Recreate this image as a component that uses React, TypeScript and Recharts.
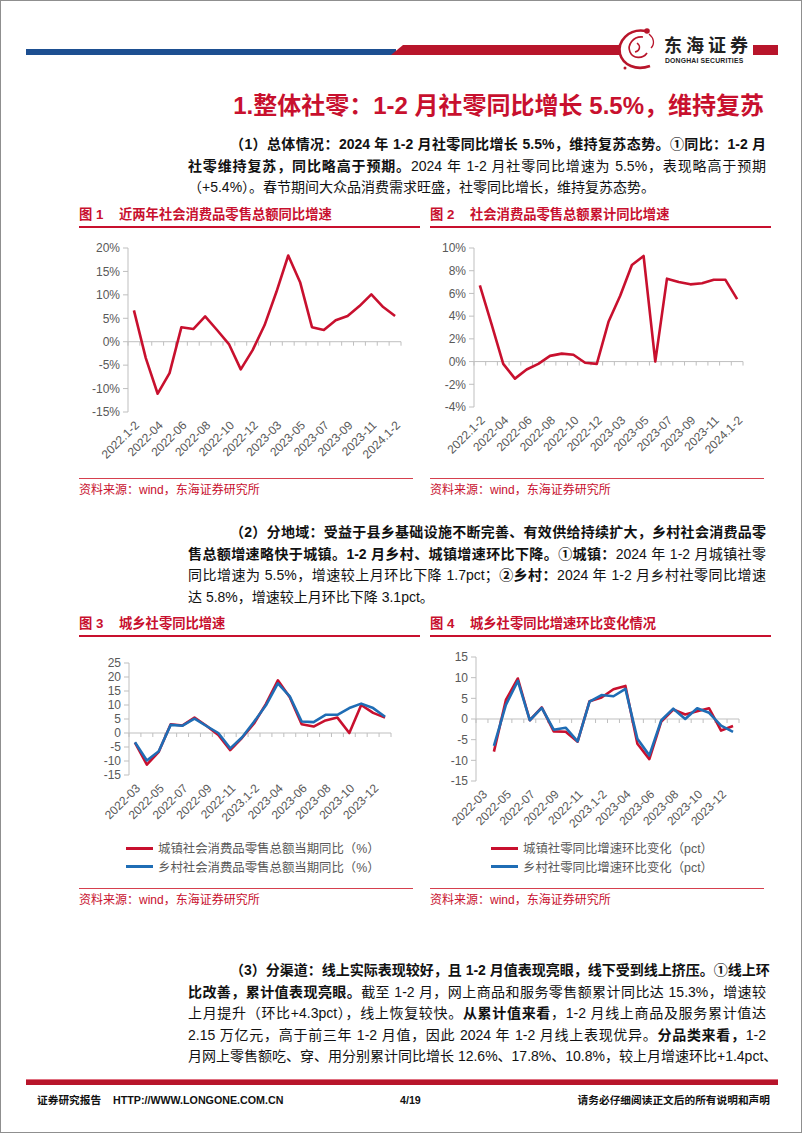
import React from "react";
import { LineChart, Line, XAxis, YAxis, ReferenceLine } from "recharts";

const RED = "#C8102E";
const BLUE = "#1F6DB5";
const AXIS = "#BFBFBF";
const TICK = "#595959";
const LATIN = '"Liberation Sans", Arial, sans-serif';
const BODY = '"Liberation Sans Narrow", "Liberation Sans", "Noto Sans CJK SC", sans-serif';
const CJK = '"Liberation Sans", "Noto Sans CJK SC", sans-serif';

// 图1 / 图2 categories
const months1 = [
  "2022.1-2", "2022-03", "2022-04", "2022-05", "2022-06", "2022-07", "2022-08", "2022-09",
  "2022-10", "2022-11", "2022-12", "2023.1-2", "2023-03", "2023-04", "2023-05", "2023-06",
  "2023-07", "2023-08", "2023-09", "2023-10", "2023-11", "2023-12", "2024.1-2",
];
// 社会消费品零售总额当月同比 (%)
const retailYoy = [6.7, -3.5, -11.1, -6.7, 3.1, 2.7, 5.4, 2.5, -0.5, -5.9, -1.8, 3.5, 10.6, 18.4, 12.7, 3.1, 2.5, 4.6, 5.5, 7.6, 10.1, 7.4, 5.5];
// 社会消费品零售总额累计同比 (%)
const retailCumYoy = [6.7, 3.3, -0.2, -1.5, -0.7, -0.2, 0.5, 0.7, 0.6, -0.1, -0.2, 3.5, 5.8, 8.5, 9.3, 0, 7.3, 7.0, 6.8, 6.9, 7.2, 7.2, 5.5];

// 图3 / 图4 categories
const months3 = [
  "2022-03", "2022-04", "2022-05", "2022-06", "2022-07", "2022-08", "2022-09", "2022-10",
  "2022-11", "2022-12", "2023.1-2", "2023-03", "2023-04", "2023-05", "2023-06", "2023-07",
  "2023-08", "2023-09", "2023-10", "2023-11", "2023-12", "2024.1-2",
];
const urbanYoy = [-3.4, -11.3, -6.7, 3.1, 2.7, 5.5, 2.6, -0.7, -6.1, -1.7, 3.4, 10.4, 18.8, 12.8, 3.1, 2.3, 4.5, 5.5, 0, 10.0, 7.2, 5.5];
const ruralYoy = [-3.3, -9.8, -6.5, 2.9, 2.6, 5.1, 2.5, 0.0, -5.5, -1.5, 4.0, 9.9, 17.7, 13.1, 4.1, 3.9, 6.5, 6.5, 8.9, 10.5, 8.9, 5.8];
const urbanChg = [null, -7.9, 4.6, 9.8, -0.3, 2.8, -3.0, -3.1, -5.5, 4.3, 5.2, 7.2, 8.0, -6.0, -9.7, -0.6, 2.3, 1.1, 1.9, 2.6, -2.8, -1.7];
const ruralChg = [null, -6.5, 3.4, 9.2, -0.3, 2.7, -2.6, -2.1, -5.4, 4.2, 5.8, 5.5, 7.3, -4.8, -8.8, -0.3, 2.5, 0.0, 2.6, 1.5, -1.6, -3.1];

const pctTicks1 = [-15, -10, -5, 0, 5, 10, 15, 20];
const pctTicks2 = [-4, -2, 0, 2, 4, 6, 8, 10];
const ticks3 = [-15, -10, -5, 0, 5, 10, 15, 20, 25];
const ticks4 = [-15, -10, -5, 0, 5, 10, 15];

const data1 = months1.map((m, i) => ({ m, v: retailYoy[i] }));
const data2 = months1.map((m, i) => ({ m, v: retailCumYoy[i] }));
const data3 = months3.map((m, i) => ({ m, a: urbanYoy[i], b: ruralYoy[i] }));
const data4 = months3.map((m, i) => ({ m, a: urbanChg[i], b: ruralChg[i] }));

const RotTick = (p: any) => {
  const { x, y, payload } = p;
  return (
    <g transform={`translate(${x + 3},${y + 11}) rotate(-45)`}>
      <text textAnchor="end" dy="0.35em" fontSize={12} fill={TICK} fontFamily={LATIN}>
        {payload.value}
      </text>
    </g>
  );
};

// horizontal axis drawn through zero with a tick at every category boundary
const zeroAxis = (n: number) => (p: any) => {
  const { x1, x2, y1 } = p;
  const step = (x2 - x1) / n;
  return (
    <g>
      <line x1={x1} y1={y1} x2={x2} y2={y1} stroke={AXIS} strokeWidth={1} />
      {Array.from({ length: n + 1 }, (_, i) => (
        <line key={i} x1={x1 + i * step} y1={y1} x2={x1 + i * step} y2={y1 + 4} stroke={AXIS} strokeWidth={1} />
      ))}
    </g>
  );
};

type Series = { key: string; color: string };

function Chart(props: {
  left: number; top: number; width: number; height: number; yWidth: number;
  data: any[]; series: Series[]; domain: [number, number]; ticks: number[]; pct?: boolean;
}) {
  const { left, top, width, height, yWidth, data, series, domain, ticks, pct } = props;
  return (
    <div style={{ position: "absolute", left, top }}>
      <LineChart width={width} height={height} data={data} margin={{ top: 10, right: 10, left: 0, bottom: 0 }}>
        <XAxis
          dataKey="m"
          scale="band"
          interval={1}
          axisLine={false}
          tickLine={false}
          tickSize={0}
          tickMargin={0}
          height={56}
          tick={<RotTick />}
        />
        <YAxis
          domain={domain}
          ticks={ticks}
          interval={0}
          width={yWidth}
          axisLine={{ stroke: AXIS }}
          tickLine={{ stroke: AXIS }}
          tickSize={5}
          tickMargin={3}
          tick={{ fill: TICK, fontSize: 12, fontFamily: LATIN }}
          tickFormatter={(v: number) => (pct ? `${v}%` : `${v}`)}
        />
        <ReferenceLine y={0} shape={zeroAxis(data.length)} />
        {series.map((s) => (
          <Line
            key={s.key}
            dataKey={s.key}
            type="linear"
            stroke={s.color}
            strokeWidth={2.6}
            dot={false}
            activeDot={false}
            strokeLinejoin="round"
            isAnimationActive={false}
          />
        ))}
      </LineChart>
    </div>
  );
}

type Seg = [string, boolean];

function TextLine({ top, left, segs, last }: { top: number; left: number; segs: Seg[]; last?: boolean }) {
  return (
    <div
      style={{
        position: "absolute",
        top,
        left,
        width: 765 - left,
        height: 21,
        lineHeight: "21px",
        fontSize: 14,
        fontFamily: BODY,
        color: "#111",
        textAlign: "justify",
        textAlignLast: last ? "left" : "justify",
        whiteSpace: "nowrap",
      }}
    >
      {segs.map(([t, b], i) => (
        <span key={i} style={{ fontWeight: b ? 700 : 400 }}>{t}</span>
      ))}
    </div>
  );
}

const P_LEFT = 187;
const P_INDENT = 229;

function FigTitle({ left, top, no, text }: { left: number; top: number; no: string; text: string }) {
  return (
    <>
      <div style={{ position: "absolute", left, top, fontSize: 13.3, fontWeight: 700, color: RED, fontFamily: CJK, lineHeight: "18px", whiteSpace: "nowrap" }}>
        {no}
      </div>
      <div style={{ position: "absolute", left: left + 40, top, fontSize: 13.3, fontWeight: 700, color: RED, fontFamily: CJK, lineHeight: "18px", whiteSpace: "nowrap" }}>
        {text}
      </div>
      <div style={{ position: "absolute", left, top: top + 20, width: 341, height: 1.5, background: RED }} />
    </>
  );
}

function Source({ left, top }: { left: number; top: number }) {
  return (
    <>
      <div style={{ position: "absolute", left, top, width: 334, height: 1.3, background: "#D6404E" }} />
      <div style={{ position: "absolute", left, top: top + 4, fontSize: 12, color: RED, fontFamily: CJK, lineHeight: "16px", whiteSpace: "nowrap" }}>
        资料来源：wind，东海证券研究所
      </div>
    </>
  );
}

function Legend({ left, top, items }: { left: number; top: number; items: { label: string; color: string }[] }) {
  return (
    <>
      {items.map((it, i) => (
        <div key={i} style={{ position: "absolute", left, top: top + i * 18.5, height: 18, display: "flex", alignItems: "center", whiteSpace: "nowrap" }}>
          <div style={{ width: 27, height: 3, background: it.color, marginRight: 5 }} />
          <span style={{ fontSize: 12.4, color: TICK, fontFamily: CJK }}>{it.label}</span>
        </div>
      ))}
    </>
  );
}

const footText: React.CSSProperties = {
  position: "absolute", top: 1092, fontSize: 10.7, fontWeight: 700, color: "#111",
  fontFamily: BODY, lineHeight: "14px", whiteSpace: "nowrap",
};

export default function App() {
  return (
    <div
      style={{
        position: "absolute",
        left: 0,
        top: 0,
        width: 802,
        height: 1133,
        background: "#fff",
        border: "1px solid #8f8f8f",
        boxSizing: "border-box",
        overflow: "hidden",
        fontFamily: CJK,
      }}
    >
      {/* header */}
      <div style={{ position: "absolute", left: 25, top: 48, width: 370, height: 6, background: "#1D4F91" }} />
      <svg style={{ position: "absolute", left: 388, top: 44 }} width={232} height={10}>
        <polygon points="2,10 14,0 230,0 230,10" fill="#B8152B" />
      </svg>
      <div style={{ position: "absolute", left: 752, top: 44, width: 25, height: 10, background: "#B8152B" }} />
      <svg style={{ position: "absolute", left: 612, top: 25 }} width={52} height={46}>
        <path d="M33 5 C 15 2, 4 16, 7 28 C 10 39, 23 45, 37 40" stroke="#B8152B" strokeWidth={2.6} fill="none" />
        <path d="M30 11 C 20 10, 14 19, 17 26 C 20 33, 30 33, 34 27" stroke="#B8152B" strokeWidth={1.7} fill="none" />
        <path d="M24 17 C 28 20, 27 25, 22 26" stroke="#B8152B" strokeWidth={1.5} fill="none" />
        <path d="M36 8 C 41 12, 42 18, 38 22" stroke="#B8152B" strokeWidth={1.3} fill="none" />
        <circle cx={34} cy={5} r={2.8} fill="#B8152B" />
        <circle cx={12} cy={42} r={1.5} fill="#B8152B" />
      </svg>
      <div style={{ position: "absolute", left: 663, top: 34, fontSize: 18, fontWeight: 700, letterSpacing: 4, color: "#222", fontFamily: CJK, lineHeight: "22px", whiteSpace: "nowrap" }}>
        东海证券
      </div>
      <div style={{ position: "absolute", left: 664, top: 56, fontSize: 6.8, fontWeight: 700, color: "#222", fontFamily: LATIN, lineHeight: "8px", whiteSpace: "nowrap", letterSpacing: 0.2 }}>
        DONGHAI SECURITIES
      </div>

      {/* section title */}
      <div style={{ position: "absolute", right: 37, top: 90, fontSize: 24, fontWeight: 700, color: RED, fontFamily: BODY, lineHeight: "30px", whiteSpace: "nowrap" }}>
        1.整体社零：1-2 月社零同比增长 5.5%，维持复苏
      </div>

      {/* paragraph 1 */}
      <TextLine top={133} left={P_INDENT} segs={[["（1）总体情况：2024 年 1-2 月社零同比增长 5.5%，维持复苏态势。①同比：1-2 月", true]]} />
      <TextLine top={154.5} left={P_LEFT} segs={[["社零维持复苏，同比略高于预期。", true], ["2024 年 1-2 月社零同比增速为 5.5%，表现略高于预期", false]]} />
      <TextLine top={176} left={P_LEFT} last segs={[["（+5.4%）。春节期间大众品消费需求旺盛，社零同比增长，维持复苏态势。", false]]} />

      <FigTitle left={78} top={205} no="图 1" text="近两年社会消费品零售总额同比增速" />
      <FigTitle left={429} top={205} no="图 2" text="社会消费品零售总额累计同比增速" />

      <Chart left={60} top={237} width={350} height={230} yWidth={67} data={data1}
        series={[{ key: "v", color: RED }]} domain={[-15, 20]} ticks={pctTicks1} pct />
      <Chart left={410} top={237} width={342} height={225} yWidth={63} data={data2}
        series={[{ key: "v", color: RED }]} domain={[-4, 10]} ticks={pctTicks2} pct />

      <Source left={78} top={477} />
      <Source left={429} top={477} />

      {/* paragraph 2 */}
      <TextLine top={521} left={P_INDENT} segs={[["（2）分地域：受益于县乡基础设施不断完善、有效供给持续扩大，乡村社会消费品零", true]]} />
      <TextLine top={542.5} left={P_LEFT} segs={[["售总额增速略快于城镇。1-2 月乡村、城镇增速环比下降。①城镇：", true], ["2024 年 1-2 月城镇社零", false]]} />
      <TextLine top={564} left={P_LEFT} segs={[["同比增速为 5.5%，增速较上月环比下降 1.7pct；", false], ["②乡村：", true], ["2024 年 1-2 月乡村社零同比增速", false]]} />
      <TextLine top={585.5} left={P_LEFT} last segs={[["达 5.8%，增速较上月环比下降 3.1pct。", false]]} />

      <FigTitle left={78} top={614} no="图 3" text="城乡社零同比增速" />
      <FigTitle left={429} top={614} no="图 4" text="城乡社零同比增速环比变化情况" />

      <Chart left={60} top={652} width={340} height={178} yWidth={68} data={data3}
        series={[{ key: "a", color: RED }, { key: "b", color: BLUE }]} domain={[-15, 25]} ticks={ticks3} />
      <Chart left={420} top={646} width={328} height={190} yWidth={55} data={data4}
        series={[{ key: "a", color: RED }, { key: "b", color: BLUE }]} domain={[-15, 15]} ticks={ticks4} />

      <Legend left={125} top={838} items={[
        { label: "城镇社会消费品零售总额当期同比（%）", color: RED },
        { label: "乡村社会消费品零售总额当期同比（%）", color: BLUE },
      ]} />
      <Legend left={490} top={838} items={[
        { label: "城镇社零同比增速环比变化（pct）", color: RED },
        { label: "乡村社零同比增速环比变化（pct）", color: BLUE },
      ]} />

      <Source left={78} top={887} />
      <Source left={429} top={887} />

      {/* paragraph 3 */}
      <TextLine top={959} left={P_INDENT} segs={[["（3）分渠道：线上实际表现较好，且 1-2 月值表现亮眼，线下受到线上挤压。①线上环", true]]} />
      <TextLine top={980.5} left={P_LEFT} segs={[["比改善，累计值表现亮眼。", true], ["截至 1-2 月，网上商品和服务零售额累计同比达 15.3%，增速较", false]]} />
      <TextLine top={1002} left={P_LEFT} segs={[["上月提升（环比+4.3pct），线上恢复较快。", false], ["从累计值来看", true], ["，1-2 月线上商品及服务累计值达", false]]} />
      <TextLine top={1023.5} left={P_LEFT} segs={[["2.15 万亿元，高于前三年 1-2 月值，因此 2024 年 1-2 月线上表现优异。", false], ["分品类来看，", true], ["1-2", false]]} />
      <TextLine top={1045} left={P_LEFT} segs={[["月网上零售额吃、穿、用分别累计同比增长 12.6%、17.8%、10.8%，较上月增速环比+1.4pct、", false]]} />

      {/* footer */}
      <div style={{ position: "absolute", left: 25, top: 1078, width: 752, height: 1, background: "#E07080" }} />
      <div style={{ position: "absolute", left: 25, top: 1079, width: 752, height: 5, background: "#B8152B" }} />
      <div style={{ ...footText, left: 36 }}>证券研究报告</div>
      <div style={{ ...footText, left: 112 }}>HTTP://WWW.LONGONE.COM.CN</div>
      <div style={{ ...footText, left: 399 }}>4/19</div>
      <div style={{ ...footText, right: 31 }}>请务必仔细阅读正文后的所有说明和声明</div>
    </div>
  );
}
